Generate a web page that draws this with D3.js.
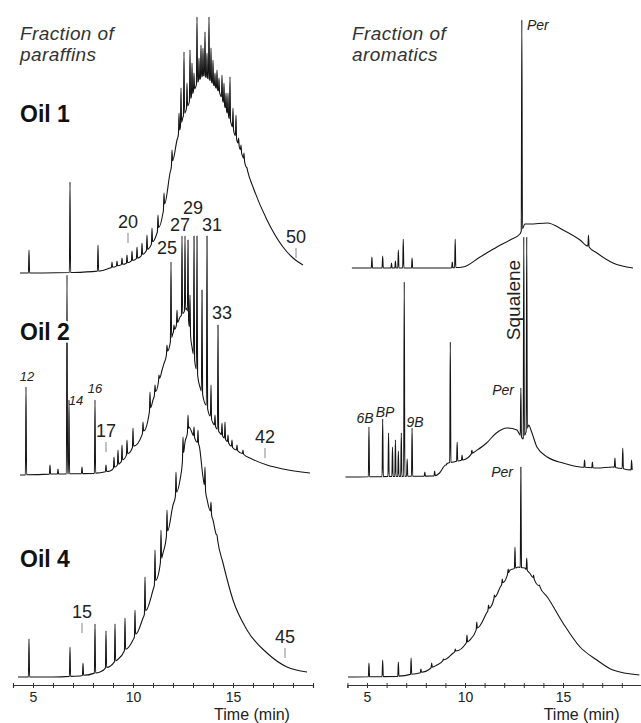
<!DOCTYPE html>
<html>
<head>
<meta charset="utf-8">
<script src="https://cdn.jsdelivr.net/npm/d3@7"></script>
<style>
  body { margin: 0; background: #fff; }
  svg { display: block; font-family: "Liberation Sans", Arial, sans-serif; }
</style>
</head>
<body>
<svg id="chart" width="641" height="723"></svg>
<script>
// time axis
const tickTimes = [4, 5, 6, 7, 8, 9, 10, 11, 12, 13, 14, 15, 16, 17, 18, 19]
const tickLabels = [5, 10, 15]

// envelopes [time, intensity] and peaks [time, top intensity]
const parOil1Env = [[4.35, 0], [5.5, 0], [7, 0.5], [8.35, 2], [8.85, 5], [9.7, 10], [10.35, 16], [10.85, 26], [11.2, 40], [11.5, 60], [11.85, 100], [12.2, 133], [12.5, 156], [12.85, 173], [13.2, 190], [13.5, 198], [13.85, 193], [14.35, 180], [14.9, 150], [15.5, 116], [16, 86], [16.7, 53], [17.5, 26], [18, 15], [18.5, 8]]
const parOil1Peaks = [[4.8, 23], [6.85, 91], [8.25, 28], [8.95, 11], [9.2, 12], [9.45, 15], [9.7, 18], [9.95, 22], [10.2, 26], [10.45, 30], [10.7, 38], [10.95, 45], [11.25, 58], [11.55, 80], [11.95, 123], [12.3, 160], [12.4, 185], [12.55, 221], [12.7, 190], [12.85, 223], [12.95, 210], [13.05, 200], [13.2, 256], [13.3, 215], [13.4, 228], [13.5, 225], [13.6, 241], [13.7, 220], [13.8, 256], [13.9, 225], [14.0, 213], [14.1, 200], [14.2, 203], [14.3, 195], [14.45, 198], [14.55, 190], [14.65, 180], [14.75, 180], [14.85, 196], [15.0, 165], [15.15, 158], [15.28, 135], [15.4, 128], [15.55, 120], [15.7, 105]]

const parOil2Env = [[4.35, 0], [6, 1], [8, 1.5], [8.85, 4], [9.35, 12], [10, 28], [10.5, 42], [11, 75], [11.35, 98], [11.7, 122], [12, 142], [12.35, 158], [12.7, 167], [12.95, 128], [13.35, 88], [13.7, 68], [14.0, 52], [14.35, 42], [15, 27], [15.85, 17], [16.7, 10], [17.5, 6], [18.85, 2]]
const parOil2Peaks = [[4.65, 88], [5.85, 10], [6.25, 6], [6.7, 200], [6.8, 75], [7.45, 8], [8.1, 75], [8.65, 10], [9.05, 18], [9.25, 25], [9.45, 30], [9.7, 35], [10.0, 47], [10.5, 53], [10.85, 83], [11.1, 90], [11.3, 100], [11.5, 108], [11.7, 130], [11.9, 213], [12.05, 150], [12.2, 165], [12.45, 239], [12.6, 239], [12.75, 235], [12.85, 180], [13.05, 239], [13.2, 239], [13.45, 185], [13.7, 239], [13.9, 90], [14.1, 60], [14.25, 150], [14.45, 52], [14.6, 53], [14.75, 40], [14.95, 35], [15.2, 30], [15.5, 25]]

const parOil4Env = [[4.25, 0], [6, 0], [7.35, 1], [8.35, 5], [9.2, 17], [10, 37], [10.5, 59], [11, 87], [11.5, 124], [12, 172], [12.35, 197], [12.6, 235], [12.8, 250], [13.0, 242], [13.3, 232], [13.5, 200], [13.7, 178], [14, 157], [14.5, 114], [15, 77], [15.7, 47], [16.7, 24], [17.7, 10], [18.7, 5]]
const parOil4Peaks = [[4.8, 38], [6.85, 30], [7.5, 14], [8.1, 53], [8.65, 46], [9.1, 53], [9.6, 59], [10.1, 67], [10.6, 100], [11.1, 127], [11.4, 147], [11.7, 167], [12.15, 205], [12.5, 240], [12.75, 262], [13.05, 250], [13.25, 247], [13.6, 210], [13.9, 175], [14.2, 142]]

const aroOil1Env = [[4.23, 0], [9.2, 0], [9.9, 1], [10.77, 11], [11.63, 21], [12.3, 28], [12.8, 34], [13.05, 44], [13.3, 44], [14.2, 45], [15.0, 38], [15.87, 28], [16.73, 15], [17.55, 5], [18.57, 0]]
const aroOil1Peaks = [[5.25, 11], [5.8, 12], [6.25, 5], [6.45, 7], [6.6, 18], [6.85, 29], [7.3, 10], [9.35, 6], [9.5, 29], [12.9, 248], [16.3, 33]]

const aroOil2Env = [[3.9, 0], [8.45, 1], [8.7, 4], [9.1, 14], [9.9, 17], [10.4, 24], [11.1, 34], [11.6, 44], [12.15, 49], [12.65, 47], [12.95, 38], [13.25, 52], [13.4, 45], [13.67, 30], [14.2, 20], [15.0, 14], [15.87, 10], [16.73, 9], [17.55, 10], [18.5, 7]]
const aroOil2Peaks = [[5.1, 50], [5.8, 58], [6.1, 44], [6.3, 30], [6.45, 37], [6.6, 26], [6.75, 44], [6.9, 195], [7.05, 18], [7.3, 49], [7.95, 5], [8.45, 6], [9.05, 12], [9.25, 135], [9.6, 35], [9.85, 22], [10.35, 27], [12.85, 89], [13.0, 240], [13.15, 240], [16.1, 17], [16.5, 15], [17.65, 19], [18.05, 29], [18.5, 17]]

const aroOil4Env = [[4.03, 0], [6.5, 0.5], [7.7, 4], [8.57, 12], [9.4, 24], [10.25, 37], [11.1, 64], [11.8, 90], [12.3, 107], [12.7, 110], [13.05, 109], [13.3, 104], [14.2, 80], [15.0, 54], [15.87, 30], [16.73, 17], [17.55, 7], [18.9, 2]]
const aroOil4Peaks = [[5.1, 14], [5.8, 17], [6.6, 15], [7.25, 19], [7.75, 8], [8.3, 14], [8.9, 18], [9.5, 28], [10.1, 42], [10.6, 55], [11.2, 72], [11.5, 82], [11.9, 98], [12.2, 108], [12.55, 130], [12.85, 210], [13.15, 119], [13.5, 102], [13.8, 92]]

// labels: [text, time, level]
const parOil1Marks = [["20", 9.75, 30], ["50", 18.15, 15]]
const parOil2Marks = [["17", 8.65, 23], ["42", 16.6, 17]]
const parOil4Marks = [["15", 7.45, 44], ["45", 17.6, 19]]
const parOil2Carbons = [["25", 11.7, 227], ["27", 12.35, 250], ["29", 13.0, 267], ["31", 13.95, 250], ["33", 14.45, 162]]
const parOil2Small = [["12", 4.7, 99], ["14", 7.15, 75], ["16", 8.1, 87]]
const aroOil1Names = [["Per", 13.72, 243]]
const aroOil2Names = [["6B", 4.9, 59], ["BP", 5.92, 65], ["9B", 7.45, 55], ["Per", 11.94, 87]]
const aroOil4Names = [["Per", 11.89, 205]]
const aroOil2Rotated = [["Squalene", 12.45, 177]]

const svg = d3.select("#chart")
svg.append("rect").attr("width", 641).attr("height", 723).attr("fill", "#fff")

const xPar = d3.scaleLinear().domain([4, 19]).range([13, 313])
const xAro = d3.scaleLinear().domain([4, 19]).range([347.4, 641.4])
const yAt = (y0) => d3.scaleLinear().domain([0, 260]).range([y0, y0 - 260])

const w = 0.03
const tracePoints = (env, peaks) => {
  const base = d3.scaleLinear().domain(env.map(d => d[0])).range(env.map(d => d[1])).clamp(true)
  const pts = env.filter(d => !peaks.some(p => Math.abs(p[0] - d[0]) < w + 0.02))
  peaks.forEach(([t, v]) => {
    pts.push([t - w, base(t - w)], [t, v], [t + w, base(t + w)])
  })
  return pts.sort((a, b) => a[0] - b[0])
}

const drawTrace = (env, peaks, x, y) => {
  const line = d3.line().x(d => x(d[0])).y(d => y(d[1])).curve(d3.curveMonotoneX)
  svg.append("path")
    .attr("d", line(tracePoints(env, peaks)))
    .attr("fill", "none")
    .attr("stroke", "#151515")
    .attr("stroke-width", 1.1)
    .attr("stroke-linejoin", "round")
}

const drawMarks = (marks, x, y) => {
  marks.forEach(([txt, t, lv]) => {
    svg.append("line")
      .attr("x1", x(t)).attr("x2", x(t))
      .attr("y1", y(lv)).attr("y2", y(lv + 10))
      .attr("stroke", "#999").attr("stroke-width", 1.2)
    svg.append("text")
      .attr("x", x(t)).attr("y", y(lv + 15))
      .attr("text-anchor", "middle")
      .attr("font-size", 18).attr("fill", "#222")
      .text(txt)
  })
}

const drawLabels = (labels, x, y, size, italic) => {
  labels.forEach(([txt, t, lv]) => {
    svg.append("text")
      .attr("x", x(t)).attr("y", y(lv))
      .attr("dy", "0.36em")
      .attr("text-anchor", "middle")
      .attr("font-size", size)
      .attr("font-style", italic ? "italic" : "normal")
      .attr("fill", "#222")
      .text(txt)
  })
}

const yP1 = yAt(273), yP2 = yAt(475), yP4 = yAt(677)
const yA1 = yAt(268), yA2 = yAt(477), yA4 = yAt(677)

drawTrace(parOil2Env, parOil2Peaks, xPar, yP2)
drawTrace(parOil1Env, parOil1Peaks, xPar, yP1)
drawTrace(parOil4Env, parOil4Peaks, xPar, yP4)
drawTrace(aroOil1Env, aroOil1Peaks, xAro, yA1)
drawTrace(aroOil2Env, aroOil2Peaks, xAro, yA2)
drawTrace(aroOil4Env, aroOil4Peaks, xAro, yA4)

drawMarks(parOil1Marks, xPar, yP1)
drawMarks(parOil2Marks, xPar, yP2)
drawMarks(parOil4Marks, xPar, yP4)
drawLabels(parOil2Carbons, xPar, yP2, 18, false)
drawLabels(parOil2Small, xPar, yP2, 13, true)
drawLabels(aroOil1Names, xAro, yA1, 14, true)
drawLabels(aroOil2Names, xAro, yA2, 14, true)
drawLabels(aroOil4Names, xAro, yA4, 14, true)

aroOil2Rotated.forEach(([txt, t, lv]) => {
  svg.append("text")
    .attr("transform", `translate(${xAro(t)},${yA2(lv)}) rotate(-90)`)
    .attr("dy", "0.36em")
    .attr("text-anchor", "middle")
    .attr("font-size", 19).attr("fill", "#222")
    .text(txt)
})

// oil names, white halo hides the trace behind them
const oilNames = ["Oil 1", "Oil 2", "Oil 4"]
const oilBase = [122, 340, 567]
oilNames.forEach((n, i) => {
  svg.append("text")
    .attr("x", 20).attr("y", oilBase[i])
    .attr("font-size", 23).attr("font-weight", "bold")
    .attr("fill", "#111")
    .attr("stroke", "#fff").attr("stroke-width", 5).attr("paint-order", "stroke")
    .text(n)
})

const titles = [["Fraction of", "paraffins", 20], ["Fraction of", "aromatics", 352]]
titles.forEach(([a, b, x0]) => {
  const t = svg.append("text").attr("font-size", 19).attr("font-style", "italic")
    .attr("fill", "#333").attr("letter-spacing", 0.4)
  t.append("tspan").attr("x", x0).attr("y", 40).text(a)
  t.append("tspan").attr("x", x0).attr("y", 61).text(b)
})

// axes
const drawAxis = (x) => {
  const g = svg.append("g").attr("transform", "translate(0,685)")
    .call(d3.axisBottom(x).tickValues(tickTimes).tickSize(3)
      .tickFormat(d => tickLabels.includes(d) ? d : ""))
  g.select(".domain").attr("stroke", "#333").attr("stroke-width", 1.2)
  g.selectAll(".tick line").attr("y1", -2).attr("y2", 3).attr("stroke", "#333")
  g.selectAll(".tick text").attr("font-size", 14).attr("fill", "#222")
    .attr("font-family", "Liberation Sans, Arial, sans-serif").attr("y", 7)
  svg.append("text")
    .attr("x", x(15.95)).attr("y", 720)
    .attr("text-anchor", "middle")
    .attr("font-size", 16).attr("fill", "#222")
    .text("Time (min)")
}
drawAxis(xPar)
drawAxis(xAro)
</script>
</body>
</html>
